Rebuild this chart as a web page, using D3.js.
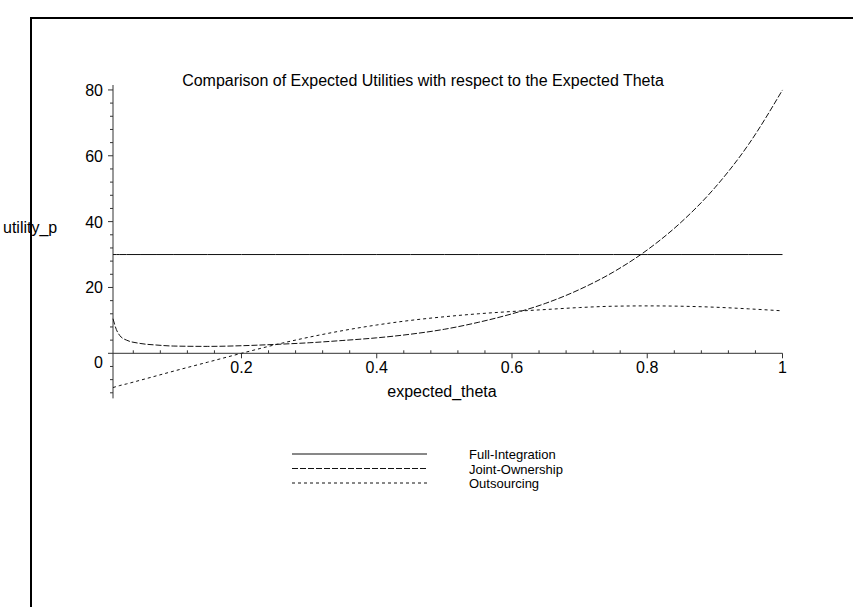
<!DOCTYPE html>
<html>
<head>
<meta charset="utf-8">
<script src="https://cdn.jsdelivr.net/npm/d3@7"></script>
<style>
  body { margin: 0; background: #fff; }
  text { font-family: "Liberation Sans", Arial, sans-serif; fill: #000; }
</style>
</head>
<body>
<script>
// data
var theta = [0.01, 0.015, 0.02, 0.03, 0.05, 0.075, 0.1, 0.15, 0.2, 0.25, 0.3, 0.35, 0.4, 0.45,
  0.5, 0.55, 0.6, 0.65, 0.7, 0.75, 0.8, 0.85, 0.9, 0.95, 1.0];
var fullIntegration = theta.map(function(){ return 30; });
var jointOwnership = [10.5, 7.2, 5.4, 4.0, 3.0, 2.5, 2.2, 2.1, 2.3, 2.7, 3.2, 3.9, 4.7, 5.8,
  7.3, 9.4, 12.0, 15.2, 19.4, 24.7, 31.4, 39.8, 50.3, 63.5, 80];
var outsourcing = [-10.4, -10.1, -9.8, -9.3, -8.2, -6.8, -5.4, -2.7, 0, 2.6, 4.9, 6.9, 8.6, 10.0,
  11.1, 12.0, 12.7, 13.3, 13.9, 14.3, 14.4, 14.3, 14.0, 13.5, 12.9];
var seriesNames = ["Full-Integration", "Joint-Ownership", "Outsourcing"];
var seriesDash = [null, "6,2", "3,3"];
var xTicks = [0.2, 0.4, 0.6, 0.8, 1];
var yTicks = [0, 20, 40, 60, 80];

var width = 853, height = 607;

var svg = d3.select("body").append("svg")
  .attr("width", width)
  .attr("height", height);

// frame (only top and left edges visible)
svg.append("path")
  .attr("d", "M31," + height + "V18H" + width)
  .attr("fill", "none")
  .attr("stroke", "#000")
  .attr("stroke-width", 2);

var x = d3.scaleLinear().domain([0.01, 1]).range([113, 782.5]);
var y = d3.scaleLinear().domain([-13.7, 81.5]).range([398.4, 85]);

var axisColor = "#333";

// x axis on y = 0
svg.append("line")
  .attr("x1", x(0.01)).attr("x2", x(1))
  .attr("y1", y(0)).attr("y2", y(0))
  .attr("stroke", axisColor);

var xMinor = d3.range(1, 25).map(function(i){ return i * 0.04; })
  .filter(function(v){ return Math.abs(v / 0.2 - Math.round(v / 0.2)) > 1e-6; });
svg.selectAll(".xminor").data(xMinor).enter().append("line")
  .attr("x1", function(d){ return x(d); }).attr("x2", function(d){ return x(d); })
  .attr("y1", y(0) - 3).attr("y2", y(0))
  .attr("stroke", axisColor);
svg.selectAll(".xmajor").data(xTicks).enter().append("line")
  .attr("x1", function(d){ return x(d); }).attr("x2", function(d){ return x(d); })
  .attr("y1", y(0)).attr("y2", y(0) + 5)
  .attr("stroke", axisColor);
svg.selectAll(".xlab").data(xTicks).enter().append("text")
  .attr("x", function(d){ return x(d); })
  .attr("y", y(0) + 20)
  .attr("text-anchor", "middle")
  .attr("font-size", 16)
  .text(function(d){ return d === 1 ? "1" : d3.format(".1f")(d); });

svg.append("text")
  .attr("x", 442).attr("y", 397)
  .attr("text-anchor", "middle")
  .attr("font-size", 16)
  .text("expected_theta");

// y axis at left of range
svg.append("line")
  .attr("x1", x(0.01)).attr("x2", x(0.01))
  .attr("y1", y(-13.7)).attr("y2", y(81.5))
  .attr("stroke", axisColor);

var yMinor = d3.range(-12, 81, 4).filter(function(v){ return v % 20 !== 0; });
svg.selectAll(".yminor").data(yMinor).enter().append("line")
  .attr("x1", x(0.01) - 3).attr("x2", x(0.01))
  .attr("y1", function(d){ return y(d); }).attr("y2", function(d){ return y(d); })
  .attr("stroke", axisColor);
svg.selectAll(".ymajor").data(yTicks).enter().append("line")
  .attr("x1", x(0.01) - 5).attr("x2", x(0.01))
  .attr("y1", function(d){ return y(d); }).attr("y2", function(d){ return y(d); })
  .attr("stroke", axisColor);
svg.selectAll(".ylab").data(yTicks).enter().append("text")
  .attr("x", 103)
  .attr("y", function(d){ return y(d) + (d === 0 ? 15 : 6); })
  .attr("text-anchor", "end")
  .attr("font-size", 16)
  .text(function(d){ return d; });

svg.append("text")
  .attr("x", 3).attr("y", 233)
  .attr("font-size", 16)
  .text("utility_p");

// title
svg.append("text")
  .attr("x", 423).attr("y", 86)
  .attr("text-anchor", "middle")
  .attr("font-size", 16)
  .text("Comparison of Expected Utilities with respect to the Expected Theta");

// curves
var line = d3.line()
  .x(function(d){ return x(d[0]); })
  .y(function(d){ return y(d[1]); })
  .curve(d3.curveMonotoneX);

var allSeries = [fullIntegration, jointOwnership, outsourcing];
allSeries.forEach(function(vals, i){
  svg.append("path")
    .datum(theta.map(function(t, j){ return [t, vals[j]]; }))
    .attr("d", line)
    .attr("fill", "none")
    .attr("stroke", "#111")
    .attr("stroke-width", 1)
    .attr("stroke-dasharray", seriesDash[i]);
});

// legend
var legend = svg.append("g");
seriesNames.forEach(function(name, i){
  var ly = 454 + i * 14.5;
  legend.append("line")
    .attr("x1", 292).attr("x2", 427)
    .attr("y1", ly).attr("y2", ly)
    .attr("stroke", "#111")
    .attr("stroke-dasharray", seriesDash[i]);
  legend.append("text")
    .attr("x", 469).attr("y", ly + 5)
    .attr("font-size", 13)
    .text(name);
});
</script>
</body>
</html>
